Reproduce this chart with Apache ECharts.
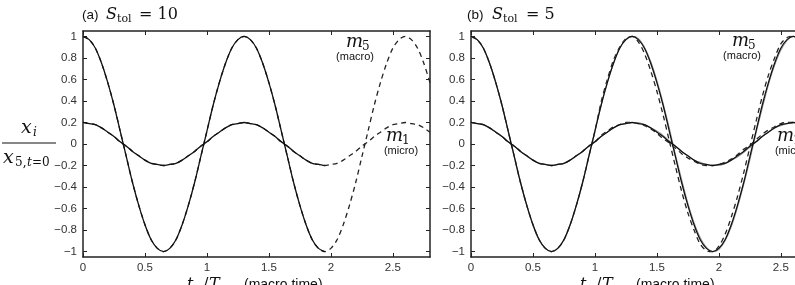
<!DOCTYPE html>
<html><head><meta charset="utf-8">
<script src="https://cdn.jsdelivr.net/npm/echarts@6/dist/echarts.min.js"></script>
<style>html,body{margin:0;padding:0;overflow:hidden;background:#fff;width:795px;height:285px}#c{width:830px;height:285px}</style>
</head><body><div id="c"></div>
<script>
// time samples (t_M / T_M), step 0.05 from 0 to 2.8
const t = [];
for (let k = 0; k <= 56; k++) t.push(+(k * 0.05).toFixed(2));

// Panel (a) S_tol = 10
const aMicroM5 = [1,0.97,0.89,0.75,0.57,0.36,0.12,-0.12,-0.36,-0.57,-0.75,-0.89,-0.97,-1,-0.97,-0.89,-0.75,-0.57,-0.36,-0.12,0.12,0.36,0.57,0.75,0.89,0.97,1,0.97,0.89,0.75,0.57,0.36,0.12,-0.12,-0.36,-0.57,-0.75,-0.89,-0.97,-1];
const aMacroM5 = [1,0.97,0.89,0.75,0.57,0.36,0.12,-0.12,-0.36,-0.57,-0.75,-0.89,-0.97,-1,-0.97,-0.89,-0.75,-0.57,-0.36,-0.12,0.12,0.36,0.57,0.75,0.89,0.97,1,0.97,0.89,0.75,0.57,0.36,0.12,-0.12,-0.36,-0.57,-0.75,-0.89,-0.97,-1,-0.97,-0.89,-0.75,-0.57,-0.36,-0.12,0.12,0.36,0.57,0.75,0.89,0.97,1,0.97,0.89,0.75,0.57];
const aMicroM1 = [0.2,0.19,0.18,0.15,0.11,0.07,0.02,-0.02,-0.07,-0.11,-0.15,-0.18,-0.19,-0.2,-0.19,-0.18,-0.15,-0.11,-0.07,-0.02,0.02,0.07,0.11,0.15,0.18,0.19,0.2,0.19,0.18,0.15,0.11,0.07,0.02,-0.02,-0.07,-0.11,-0.15,-0.18,-0.19,-0.2];
const aMacroM1 = [0.2,0.19,0.18,0.15,0.11,0.07,0.02,-0.02,-0.07,-0.11,-0.15,-0.18,-0.19,-0.2,-0.19,-0.18,-0.15,-0.11,-0.07,-0.02,0.02,0.07,0.11,0.15,0.18,0.19,0.2,0.19,0.18,0.15,0.11,0.07,0.02,-0.02,-0.07,-0.11,-0.15,-0.18,-0.19,-0.2,-0.19,-0.18,-0.15,-0.11,-0.07,-0.02,0.02,0.07,0.11,0.15,0.18,0.19,0.2,0.19,0.18,0.15,0.11];

// Panel (b) S_tol = 5
const bMicroM5 = [1,0.97,0.89,0.75,0.57,0.36,0.12,-0.12,-0.36,-0.57,-0.75,-0.89,-0.97,-1,-0.97,-0.89,-0.75,-0.57,-0.36,-0.12,0.12,0.36,0.57,0.75,0.89,0.97,1,0.97,0.89,0.75,0.57,0.36,0.12,-0.12,-0.36,-0.57,-0.75,-0.89,-0.97,-1,-0.97,-0.89,-0.75,-0.57,-0.36,-0.12,0.12,0.36,0.57,0.75,0.89,0.97,1,0.97,0.89,0.75,0.57];
const bGreyM5 = [1,0.97,0.89,0.75,0.57,0.36,0.12,-0.12,-0.36,-0.57,-0.75,-0.89,-0.97,-1,-0.97,-0.89,-0.75,-0.57,-0.36,-0.12,0.12,0.36,0.57,0.75,0.89,0.97,1,0.98,0.9,0.77,0.59,0.38,0.15,-0.1,-0.33,-0.55,-0.73,-0.87,-0.96,-1,-0.98,-0.9,-0.77,-0.59,-0.38,-0.15,0.1,0.33,0.55,0.73,0.87,0.96,1,0.98,0.9,0.77,0.59];
const bMacroM5 = [1,0.97,0.89,0.75,0.57,0.36,0.12,-0.12,-0.36,-0.57,-0.75,-0.89,-0.97,-1,-0.97,-0.89,-0.75,-0.57,-0.36,-0.12,0.12,0.39,0.6,0.78,0.9,0.98,1,0.95,0.84,0.68,0.49,0.27,0.03,-0.21,-0.44,-0.64,-0.8,-0.93,-0.99,-1,-0.95,-0.84,-0.68,-0.49,-0.27,-0.03,0.21,0.44,0.64,0.8,0.93,0.99,1,0.95,0.84,0.68,0.49];
const bMicroM1 = [0.2,0.19,0.18,0.15,0.11,0.07,0.02,-0.02,-0.07,-0.11,-0.15,-0.18,-0.19,-0.2,-0.19,-0.18,-0.15,-0.11,-0.07,-0.02,0.02,0.07,0.11,0.15,0.18,0.19,0.2,0.19,0.18,0.15,0.11,0.07,0.02,-0.02,-0.07,-0.11,-0.15,-0.18,-0.19,-0.2,-0.19,-0.18,-0.15,-0.11,-0.07,-0.02,0.02,0.07,0.11,0.15,0.18,0.19,0.2,0.19,0.18,0.15,0.11];
const bGreyM1 = [0.2,0.19,0.18,0.15,0.11,0.07,0.02,-0.02,-0.07,-0.11,-0.15,-0.18,-0.19,-0.2,-0.19,-0.18,-0.15,-0.11,-0.07,-0.02,0.02,0.07,0.11,0.15,0.18,0.19,0.2,0.2,0.18,0.15,0.12,0.08,0.03,-0.02,-0.07,-0.11,-0.15,-0.17,-0.19,-0.2,-0.2,-0.18,-0.15,-0.12,-0.08,-0.03,0.02,0.07,0.11,0.15,0.17,0.19,0.2,0.2,0.18,0.15,0.12];
const bMacroM1 = [0.2,0.19,0.18,0.15,0.11,0.07,0.02,-0.02,-0.07,-0.11,-0.15,-0.18,-0.19,-0.2,-0.19,-0.18,-0.15,-0.11,-0.07,-0.02,0.02,0.08,0.12,0.16,0.18,0.2,0.2,0.19,0.17,0.14,0.1,0.05,0.01,-0.04,-0.09,-0.13,-0.16,-0.19,-0.2,-0.2,-0.19,-0.17,-0.14,-0.1,-0.05,-0.01,0.04,0.09,0.13,0.16,0.19,0.2,0.2,0.19,0.17,0.14,0.1];

const xTicks = [0, 0.5, 1, 1.5, 2, 2.5];
const yTicks = [-1, -0.8, -0.6, -0.4, -0.2, 0, 0.2, 0.4, 0.6, 0.8, 1];

const chart = echarts.init(document.getElementById('c'), null, {renderer: 'canvas'});
const pair = arr => arr.map((v, i) => [t[i], v]);
const AX = '#222';
const lblFont = {color: '#333', fontSize: 11.5, fontFamily: 'Liberation Sans, Arial, sans-serif'};
const fmt = v => String(v).replace('-', '\u2212');

function xAxes(gi) {
  return [
    {type: 'value', gridIndex: gi, min: 0, max: 2.8, position: 'bottom',
     axisLine: {onZero: false, lineStyle: {color: AX, width: 1.5}},
     axisTick: {inside: true, length: 4, customValues: xTicks, lineStyle: {color: AX}},
     axisLabel: Object.assign({customValues: xTicks, margin: 5, formatter: fmt}, lblFont),
     splitLine: {show: false}},
    {type: 'value', gridIndex: gi, min: 0, max: 2.8, position: 'top',
     axisLine: {onZero: false, lineStyle: {color: AX, width: 1.5}},
     axisTick: {inside: true, length: 4, customValues: xTicks, lineStyle: {color: AX}},
     axisLabel: {show: false}, splitLine: {show: false}}
  ];
}
function yAxes(gi) {
  return [
    {type: 'value', gridIndex: gi, min: -1.05, max: 1.05, position: 'left',
     axisLine: {onZero: false, lineStyle: {color: AX, width: 1.5}},
     axisTick: {inside: true, length: 4, customValues: yTicks, lineStyle: {color: AX}},
     axisLabel: Object.assign({customValues: yTicks, margin: 6, formatter: fmt}, lblFont),
     splitLine: {show: false}},
    {type: 'value', gridIndex: gi, min: -1.05, max: 1.05, position: 'right',
     axisLine: {onZero: false, lineStyle: {color: AX, width: 1.5}},
     axisTick: {inside: true, length: 4, customValues: yTicks, lineStyle: {color: AX}},
     axisLabel: {show: false}, splitLine: {show: false}}
  ];
}
function line(data, xi, yi, color, dashed, w) {
  return {type: 'line', xAxisIndex: xi, yAxisIndex: yi, data: pair(data), showSymbol: false,
    smooth: 0.3, animation: false, silent: true,
    lineStyle: {color: color, width: w || 1.3, type: dashed ? [5, 4] : 'solid'}};
}

const serif = 'DejaVu Serif, Liberation Serif, serif';
const sans = 'Liberation Sans, Arial, sans-serif';
function txt(x, y, s, opt) {
  return {type: 'text', x: x, y: y, silent: true,
    style: Object.assign({text: s, fill: '#111', font: '13px ' + sans, textVerticalAlign: 'middle', textAlign: 'left'}, opt || {})};
}
function it(size) { return 'italic ' + size + 'px ' + serif; }

const graphics = [
  // titles
  txt(82, 15, '(a)', {font: '13.5px ' + sans}),
  txt(106, 15, 'S', {font: it(16)}),
  txt(117, 19, 'tol', {font: '11px ' + serif}),
  txt(139, 15, '= 10', {font: '16px ' + serif}),
  txt(467, 15, '(b)', {font: '13.5px ' + sans}),
  txt(492, 15, 'S', {font: it(16)}),
  txt(503, 19, 'tol', {font: '11px ' + serif}),
  txt(526, 15, '= 5', {font: '16px ' + serif}),
  // y label fraction
  txt(21, 128, 'x', {font: it(19)}),
  txt(33, 133, 'i', {font: it(12)}),
  {type: 'line', shape: {x1: 2, y1: 143, x2: 56, y2: 143}, style: {stroke: '#111', lineWidth: 1}, silent: true},
  txt(3, 158, 'x', {font: it(19)}),
  txt(15, 163, '5,', {font: '12px ' + serif}),
  txt(27, 163, 't', {font: it(12)}),
  txt(32, 163, '=0', {font: '12px ' + serif}),
  // curve labels panel a
  txt(346, 42, 'm', {font: it(18)}),
  txt(362, 47, '5', {font: '12px ' + serif}),
  txt(355, 57, '(macro)', {font: '11px ' + sans, textAlign: 'center'}),
  txt(386, 136, 'm', {font: it(18)}),
  txt(402, 141, '1', {font: '12px ' + serif}),
  txt(401, 151, '(micro)', {font: '11px ' + sans, textAlign: 'center'}),
  // curve labels panel b
  txt(732, 41, 'm', {font: it(18)}),
  txt(748, 46, '5', {font: '12px ' + serif}),
  txt(742, 56, '(macro)', {font: '11px ' + sans, textAlign: 'center'}),
  txt(777, 136, 'm', {font: it(18)}),
  txt(793, 141, '1', {font: '12px ' + serif}),
  txt(792, 151, '(micro)', {font: '11px ' + sans, textAlign: 'center'}),
  // x labels
  txt(187, 285, 't', {font: it(16)}),
  txt(193, 289, 'M', {font: it(10)}),
  txt(203, 285, '/', {font: '16px ' + serif}),
  txt(209, 285, 'T', {font: it(16)}),
  txt(219, 289, 'M', {font: it(10)}),
  txt(244, 285, '(macro time)', {font: '14px ' + sans}),
  txt(580, 285, 't', {font: it(16)}),
  txt(586, 289, 'M', {font: it(10)}),
  txt(596, 285, '/', {font: '16px ' + serif}),
  txt(602, 285, 'T', {font: it(16)}),
  txt(612, 289, 'M', {font: it(10)}),
  txt(636, 285, '(macro time)', {font: '14px ' + sans})
];

chart.setOption({
  backgroundColor: '#fff',
  animation: false,
  grid: [
    {left: 83, top: 31, width: 347, height: 226},
    {left: 471, top: 31, width: 347, height: 226}
  ],
  xAxis: xAxes(0).concat(xAxes(1)),
  yAxis: yAxes(0).concat(yAxes(1)),
  series: [
    line(aMacroM5, 0, 0, '#222', true),
    line(aMacroM1, 0, 0, '#222', true),
    line(aMicroM5, 0, 0, '#111', false),
    line(aMicroM1, 0, 0, '#111', false),
    line(bMacroM5, 2, 2, '#222', true),
    line(bMacroM1, 2, 2, '#222', true),
    line(bGreyM5, 2, 2, '#9a9a9a', false, 1.1),
    line(bGreyM1, 2, 2, '#9a9a9a', false, 1.1),
    line(bMicroM5, 2, 2, '#111', false),
    line(bMicroM1, 2, 2, '#111', false)
  ],
  graphic: graphics
});
</script>
</body></html>
